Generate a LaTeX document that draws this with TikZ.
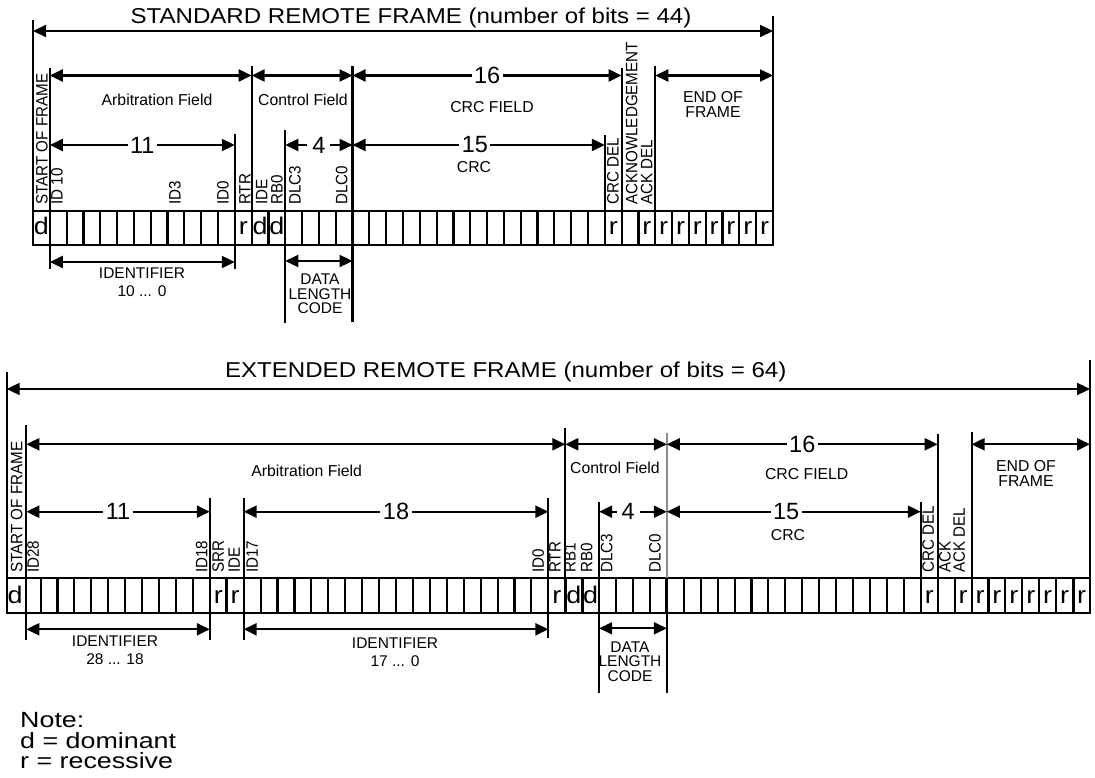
\documentclass[tikz,border=0pt]{standalone}
\usepackage{fontspec}
\setmainfont{Liberation Sans}
\newfontfamily\wf[FakeStretch=1.12]{Liberation Sans}
\newfontfamily\nf[FakeStretch=1.22]{Liberation Sans}
\newfontfamily\cf[FakeStretch=0.92]{Liberation Sans}
\usetikzlibrary{arrows.meta}
\begin{document}
\begin{tikzpicture}[x=1pt,y=-1pt,
  >={Triangle[length=13pt,width=12pt]},
  ln/.style={line width=2.1pt},
  thk/.style={line width=3pt},
  dimarrow/.style={line width=2.1pt,<->},
  vlab/.style={rotate=90, anchor=west, inner sep=0pt, font=\cf\fontsize{16.5}{16.5}\selectfont},
  flab/.style={inner sep=0pt, align=center, font=\fontsize{15.8}{15}\selectfont},
  num/.style={fill=white, inner sep=2.5pt, font=\fontsize{23.5}{23.5}\selectfont},
  numw/.style={num, inner sep=5pt},
  cellt/.style={anchor=base, inner sep=0pt, font=\wf\fontsize{24}{24}\selectfont},
  ttl/.style={inner sep=0pt, font=\wf\fontsize{21.5}{21.5}\selectfont},
  notef/.style={anchor=north west, inner sep=0pt, align=left, font=\nf\fontsize{22}{20.5}\selectfont},
]
\fill[white] (0,0) rectangle (1095,778);
\useasboundingbox (0,0) rectangle (1095,778);

% ================= STANDARD REMOTE FRAME =================
\foreach \i in {0,...,44} {
  \coordinate (A\i) at ({33+16.818*\i},210.7);
  \coordinate (Ab\i) at ({33+16.818*\i},245);
}
\draw[ln] (A0) rectangle (Ab44);
\foreach \i in {1,...,43} \draw[ln] (A\i) -- (Ab\i);

% ticks
\foreach \c/\a/\b in {A0/20/210.7, A44/16/210.7, A1/68/269, A13/66/210.7,
  A19/66/322, A12/134/269, A15/130/323, A34/135/210.7, A35/68/210.7, A37/66/210.7}
  \draw[ln] (\c |- 0,\a) -- (\c |- 0,\b);

% dimension arrows
\draw[dimarrow] (A0 |- 0,31) -- (A44 |- 0,31);
\draw[dimarrow] (A1 |- 0,75.5) -- (A13 |- 0,75.5);
\draw[dimarrow] (A13 |- 0,75.5) -- (A19 |- 0,75.5);
\draw[dimarrow] (A19 |- 0,75.5) -- node[num] (n16a) {16} (A35 |- 0,75.5);
\draw[dimarrow] (A37 |- 0,75.5) -- (A44 |- 0,75.5);
\draw[dimarrow] (A1 |- 0,145) -- node[num] (n11a) {11} (A12 |- 0,145);
\draw[dimarrow] (A15 |- 0,145) -- node[numw] (n4a) {4} (A19 |- 0,145);
\draw[dimarrow] (A19 |- 0,145) -- node[num, pos=0.485] (n15a) {15} (A34 |- 0,145);
\draw[dimarrow] (A1 |- 0,262) -- (A12 |- 0,262);
\draw[dimarrow] (A15 |- 0,261) -- (A19 |- 0,261);

% vertical labels
\foreach \x/\t [count=\k] in {42/START OF FRAME, 57/ID 10, 175/ID3, 223/ID0, 245/RTR,
  261.7/IDE, 277/RB0, 295/DLC3, 341.7/DLC0, 613/CRC DEL, 631.7/ACKNOWLEDGEMENT, 646.7/ACK DEL}
  \node[vlab] (va\k) at (\x,205) {\t};

% cell contents
\foreach \i/\t in {0/d,12/r,13/d,14/d,34/r,36/r,37/r,38/r,39/r,40/r,41/r,42/r,43/r}
  \node[cellt] (ca\i) at ({33+16.818*(\i+0.5)},234) {\t};

% labels
\node[ttl] (t1) at (411,17.5) {STANDARD REMOTE FRAME (number of bits = 44)};
\node[flab] (arb1) at (157,100) {Arbitration Field};
\node[flab] (ctl1) at (303,100) {Control Field};
\node[flab] (crcf1) at (492,107) {CRC FIELD};
\node[flab] (eof1) at (713,104.5) {END OF\\FRAME};
\node[flab] (crc1) at (474,167) {CRC};
\node[flab, font=\fontsize{15.5}{17.5}\selectfont] (idt1) at (142,282) {IDENTIFIER\\10 ... 0};
\node[flab, font=\fontsize{15.5}{14.5}\selectfont] (dlc1) at (320,294) {DATA\\LENGTH\\CODE};

% ================= EXTENDED REMOTE FRAME =================
\foreach \i in {0,...,64} {
  \coordinate (B\i) at ({6.7+16.927*\i},578.3);
  \coordinate (Bb\i) at ({6.7+16.927*\i},612.7);
}
\coordinate (B1) at (26.3,578.3);
\coordinate (Bb1) at (26.3,612.7);
\draw[ln] (B0) rectangle (Bb64);
\foreach \i in {1,...,63} \draw[ln] (B\i) -- (Bb\i);
\foreach \i in {13,33,34,39,63} \draw[thk] (B\i) -- (Bb\i);

% ticks
\foreach \c/\a/\b in {B0/371.7/578.3, B64/360/578.3, B1/425/640, B12/498/640, B14/498/640,
  B32/498/638, B33/428/578.3, B35/501.7/693, B54/502/578.3, B55/434/578.3, B57/432/578.3, B39/578.3/693}
  \draw[ln] (\c |- 0,\a) -- (\c |- 0,\b);
\draw[ln, draw={rgb,255:red,140;green,140;blue,140}] (B39 |- 0,432.7) -- (B39);

% dimension arrows
\draw[dimarrow] (B0 |- 0,389) -- (B64 |- 0,389);
\draw[dimarrow] (B1 |- 0,444.3) -- (B33 |- 0,444.3);
\draw[dimarrow] (B33 |- 0,444.3) -- (B39 |- 0,444.3);
\draw[dimarrow] (B39 |- 0,444.3) -- node[num] (n16b) {16} (B55 |- 0,444.3);
\draw[dimarrow] (B57 |- 0,444.3) -- (B64 |- 0,444.3);
\draw[dimarrow] (B1 |- 0,511.7) -- node[num] (n11b) {11} (B12 |- 0,511.7);
\draw[dimarrow] (B14 |- 0,511.7) -- node[num] (n18b) {18} (B32 |- 0,511.7);
\draw[dimarrow] (B35 |- 0,511.7) -- node[numw, pos=0.43] (n4b) {4} (B39 |- 0,511.7);
\draw[dimarrow] (B39 |- 0,511.7) -- node[num, pos=0.47] (n15b) {15} (B54 |- 0,511.7);
\draw[dimarrow] (B1 |- 0,629.3) -- (B12 |- 0,629.3);
\draw[dimarrow] (B14 |- 0,629.3) -- (B32 |- 0,629.3);
\draw[dimarrow] (B35 |- 0,628.3) -- (B39 |- 0,628.3);

% vertical labels
\foreach \x/\t [count=\k] in {16.7/START OF FRAME, 33.3/ID28, 201.7/ID18, 218.3/SRR, 234.3/IDE,
  252.3/ID17, 538.3/ID0, 555/RTR, 570/RB1, 586.7/RB0, 606.7/DLC3, 655/DLC0,
  928.3/CRC DEL, 945/ACK, 959.3/ACK DEL}
  \node[vlab] (vb\k) at (\x,573) {\t};

% cell contents
\foreach \i/\t in {0/d,12/r,13/r,32/r,33/d,34/d,54/r,56/r,57/r,58/r,59/r,60/r,61/r,62/r,63/r}
  \node[cellt] (cb\i) at ({6.7+16.927*(\i+0.5)},603.5) {\t};

% labels
\node[ttl] (t2) at (505.7,371.5) {EXTENDED REMOTE FRAME (number of bits = 64)};
\node[flab] (arb2) at (306.7,470.7) {Arbitration Field};
\node[flab] (ctl2) at (615,468.3) {Control Field};
\node[flab] (crcf2) at (806.7,474.3) {CRC FIELD};
\node[flab] (eof2) at (1026,473) {END OF\\FRAME};
\node[flab] (crc2) at (788,535) {CRC};
\node[flab, font=\fontsize{15.5}{17.5}\selectfont] (idt2) at (115,650) {IDENTIFIER\\28 ... 18};
\node[flab, font=\fontsize{15.5}{17.5}\selectfont] (idt3) at (395,652) {IDENTIFIER\\17 ... 0};
\node[flab, font=\fontsize{15.5}{14.5}\selectfont] (dlc2) at (630,661.5) {DATA\\LENGTH\\CODE};

% note
\node[notef] (note) at (20,712.5) {Note:\\d = dominant\\r = recessive};
\end{tikzpicture}
\end{document}
